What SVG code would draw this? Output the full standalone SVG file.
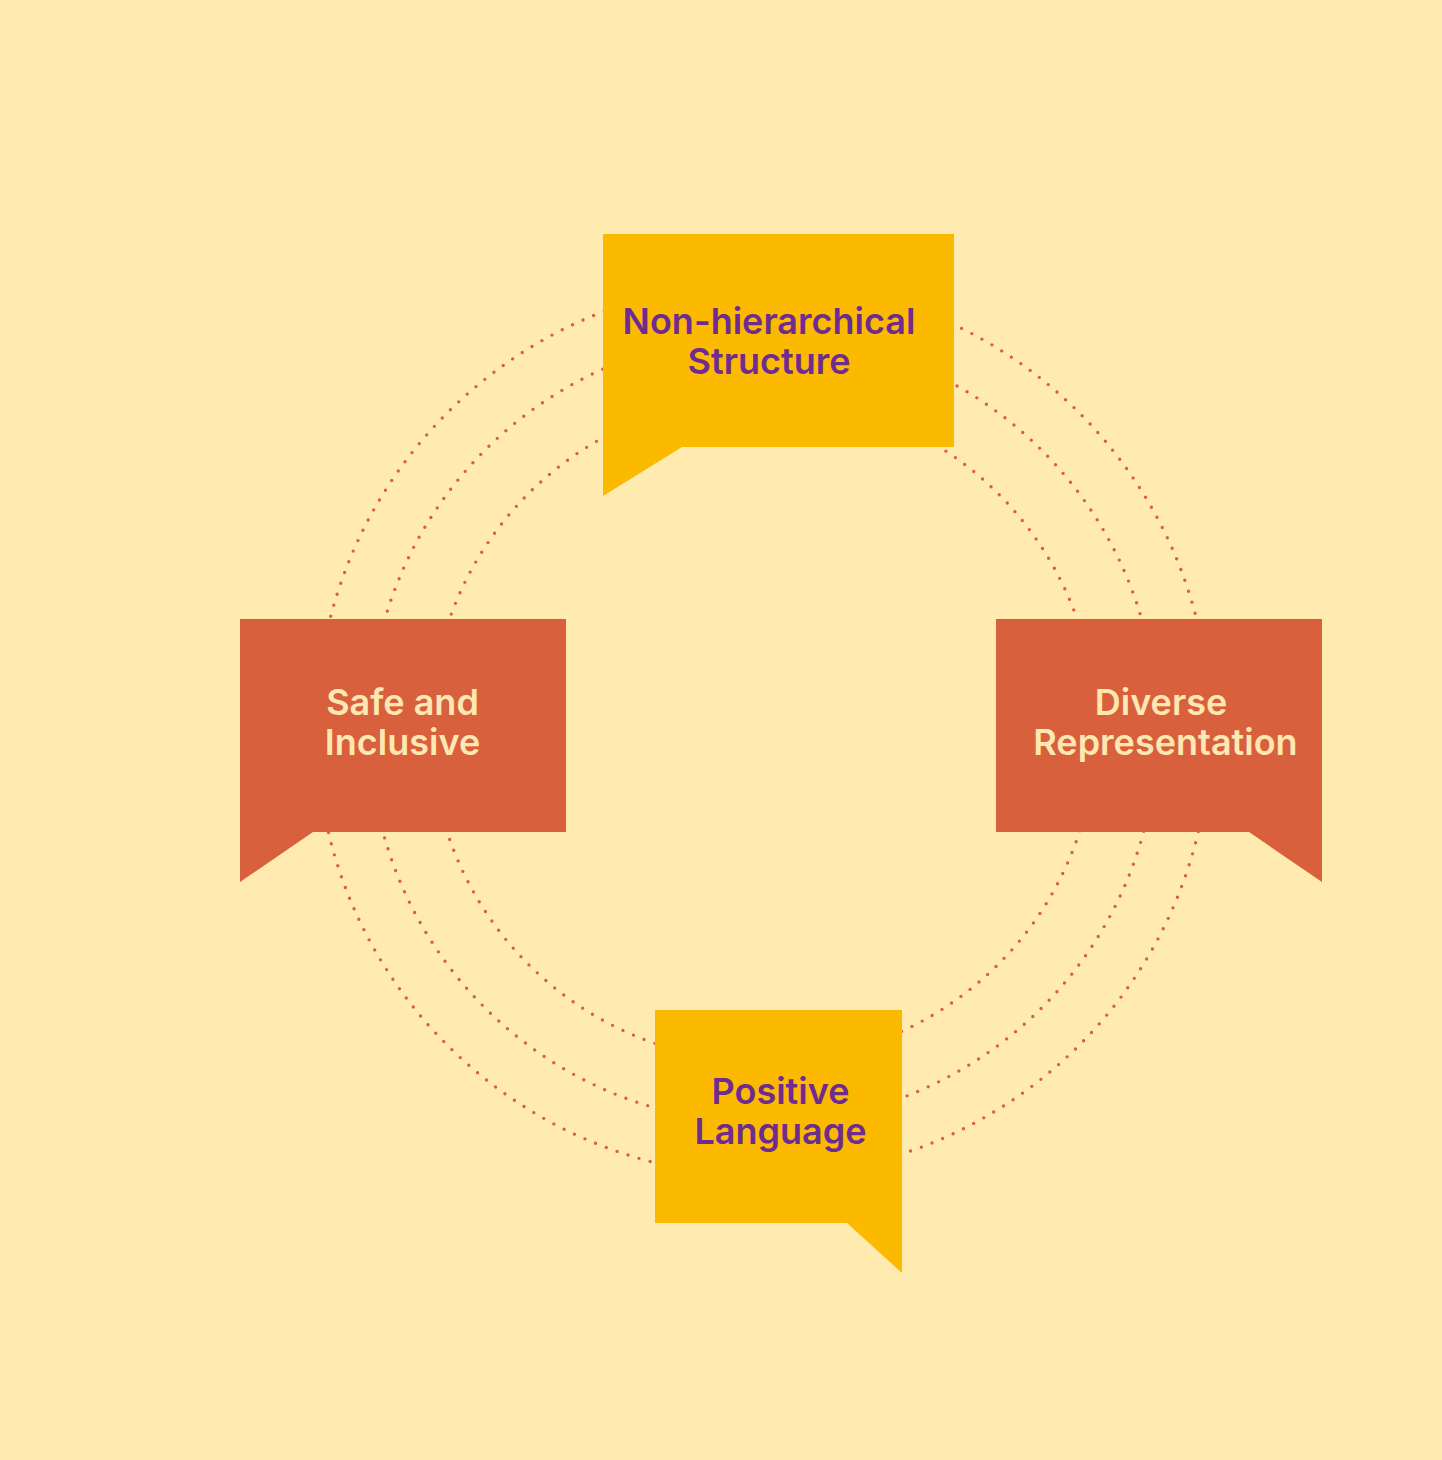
<svg xmlns="http://www.w3.org/2000/svg" width="1442" height="1460" viewBox="0 0 1442 1460">
<style>
.ring{fill:none;stroke:#D9603C;stroke-width:3.4;stroke-linecap:round;stroke-dasharray:0 11.5}
.yel{fill:#FBBA00}
.org{fill:#D9603C}
.lbl{font-family:Inter,"Noto Sans",sans-serif;font-weight:600;font-size:36px;text-anchor:middle}
.pur{fill:#6E2C91}
.crm{fill:#FDE8B4}
</style>
<rect x="0" y="0" width="1442" height="1460" fill="#FFEAB0"/>
<g id="connectors">
<circle class="ring" cx="763.3" cy="729" r="447"/>
<circle class="ring" cx="763.3" cy="729" r="394"/>
<circle class="ring" cx="763.3" cy="729" r="332.5"/>
</g>
<g id="node-top">
<path class="yel" d="M603,234 H954 V447 H682 L603,496 Z"/>
<text class="lbl pur" x="769" y="334">Non-hierarchical</text>
<text class="lbl pur" x="769" y="374">Structure</text>
</g>
<g id="node-left">
<path class="org" d="M240,619 H566 V832 H313 L240,882 Z"/>
<text class="lbl crm" x="402.5" y="715">Safe and</text>
<text class="lbl crm" x="402.5" y="755">Inclusive</text>
</g>
<g id="node-right">
<path class="org" d="M996,619 H1322 V882 L1249,832 H996 Z"/>
<text class="lbl crm" x="1161" y="715">Diverse</text>
<text class="lbl crm" x="1165.5" y="755">Representation</text>
</g>
<g id="node-bottom">
<path class="yel" d="M655,1010 H902 V1273 L847,1223 H655 Z"/>
<text class="lbl pur" x="780.5" y="1104">Positive</text>
<text class="lbl pur" x="780.5" y="1144">Language</text>
</g>
</svg>
